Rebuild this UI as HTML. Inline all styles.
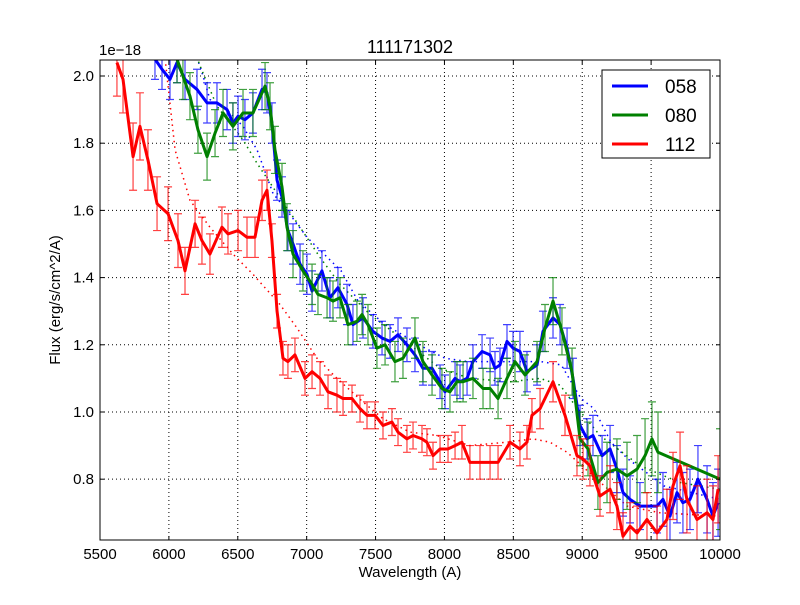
<!DOCTYPE html>
<html><head><meta charset="utf-8"><style>
body{margin:0;background:#fff;font-family:"Liberation Sans","DejaVu Sans",sans-serif}
svg text{font-family:"Liberation Sans","DejaVu Sans",sans-serif}
</style></head><body>
<svg id="chart" width="800" height="600" viewBox="0 0 800 600" xmlns="http://www.w3.org/2000/svg">
<rect width="800" height="600" fill="#fff"/>
<defs><clipPath id="clip"><rect x="100" y="60" width="620" height="480"/></clipPath></defs>
<g id="grid"></g>
<g id="plot" clip-path="url(#clip)"></g>
<rect x="100" y="60" width="620" height="480" fill="none" stroke="#000" stroke-width="1"/>
<g id="ticks"></g>
<text x="410" y="53" font-size="18" text-anchor="middle">111171302</text>
<text x="99" y="55" font-size="15">1e−18</text>
<text x="410" y="577" font-size="15" text-anchor="middle">Wavelength (A)</text>
<text transform="translate(60,300) rotate(-90)" font-size="15" text-anchor="middle">Flux (erg/s/cm^2/A)</text>
<g>
<rect x="602" y="70" width="108" height="88" fill="#fff" stroke="#000" stroke-width="1"/>
<g><line x1="612" y1="86" x2="648" y2="86" stroke="#0000ff" stroke-width="3"/><text x="665" y="93" font-size="19">058</text></g>
<g><line x1="612" y1="115" x2="648" y2="115" stroke="#008000" stroke-width="3"/><text x="665" y="122" font-size="19">080</text></g>
<g><line x1="612" y1="144" x2="648" y2="144" stroke="#ff0000" stroke-width="3"/><text x="665" y="151" font-size="19">112</text></g>
</g>
</svg>
<script>
const xTicks=[5500,6000,6500,7000,7500,8000,8500,9000,9500,10000];
const yTicks=[0.8,1.0,1.2,1.4,1.6,1.8,2.0];
const yTickLabels=["0.8","1.0","1.2","1.4","1.6","1.8","2.0"];

const redW=[5623,5667,5740,5790,5848,5914,5994,6066,6117,6190,
6240,6298,6385,6429,6502,6567,6625,6676,6712,6748,
6785,6828,6864,6915,6988,7039,7097,7155,7220,7264,
7329,7387,7438,7496,7554,7619,7663,7728,7772,7837,
7873,7917,7968,8026,8077,8127,8185,8258,8331,8389,
8476,8548,8599,8635,8694,8788,8875,8962,9006,9056,
9129,9202,9252,9296,9347,9398,9470,9543,9615,9659,
9710,9760,9833,9906,9949,9986];
const redF=[2.04,1.99,1.76,1.85,1.75,1.62,1.59,1.51,1.42,1.56,
1.51,1.47,1.55,1.53,1.54,1.52,1.52,1.63,1.66,1.51,
1.30,1.16,1.15,1.17,1.10,1.12,1.10,1.06,1.05,1.04,
1.04,1.01,0.99,0.99,0.96,0.97,0.94,0.92,0.93,0.92,
0.91,0.87,0.89,0.89,0.90,0.91,0.85,0.85,0.85,0.85,
0.91,0.89,0.91,0.99,1.01,1.09,0.99,0.87,0.86,0.84,
0.75,0.77,0.72,0.63,0.66,0.64,0.68,0.64,0.68,0.78,
0.84,0.74,0.68,0.70,0.68,0.77];
const redE=[.10,.10,.10,.10,.09,.08,.08,.08,.07,.07,
.07,.06,.06,.06,.06,.06,.06,.06,.06,.05,
.05,.05,.05,.05,.05,.05,.05,.05,.05,.05,
.04,.04,.04,.04,.04,.04,.04,.04,.04,.04,
.04,.04,.04,.04,.04,.05,.05,.05,.05,.05,
.05,.05,.05,.05,.06,.06,.06,.06,.06,.06,
.06,.07,.07,.07,.07,.08,.08,.08,.09,.10,
.10,.10,.10,.10,.10,.10];

const blueW=[5850,5899,5950,6008,6059,6117,6204,6277,6349,6422,
6465,6502,6552,6610,6676,6712,6748,6785,6821,6864,
6901,6952,7002,7039,7111,7169,7227,7293,7336,7409,
7481,7547,7605,7663,7728,7786,7844,7910,7968,8004,
8077,8113,8164,8207,8273,8331,8367,8403,8454,8498,
8548,8599,8672,8715,8788,8839,8890,8933,8984,9035,
9078,9144,9202,9252,9296,9347,9419,9543,9586,9637,
9688,9731,9782,9840,9906,9949,9986];
const blueF=[2.12,2.05,2.02,1.99,2.04,1.99,1.96,1.92,1.92,1.90,
1.86,1.88,1.87,1.89,1.96,1.95,1.86,1.69,1.64,1.54,
1.50,1.44,1.41,1.36,1.42,1.34,1.37,1.32,1.26,1.28,
1.24,1.22,1.21,1.23,1.20,1.17,1.13,1.13,1.09,1.06,
1.10,1.09,1.10,1.15,1.18,1.17,1.13,1.14,1.21,1.19,
1.18,1.12,1.14,1.24,1.28,1.26,1.19,1.10,0.96,0.92,
0.93,0.87,0.89,0.83,0.76,0.74,0.72,0.72,0.74,0.69,
0.76,0.73,0.74,0.80,0.74,0.69,0.73];
const blueE=[.06,.06,.06,.06,.06,.06,.06,.06,.06,.06,
.06,.06,.06,.06,.06,.06,.06,.06,.06,.06,
.06,.06,.06,.06,.06,.06,.06,.06,.06,.06,
.05,.05,.05,.05,.05,.05,.05,.05,.05,.05,
.05,.05,.05,.05,.05,.05,.05,.05,.05,.05,
.06,.06,.06,.06,.06,.06,.06,.06,.06,.06,
.06,.06,.07,.07,.07,.07,.07,.08,.08,.08,
.09,.09,.09,.10,.10,.10,.10];

const greenW=[6059,6102,6153,6211,6277,6335,6393,6465,6538,6610,
6698,6734,6770,6821,6857,6901,6973,7039,7082,7148,
7191,7242,7300,7365,7402,7445,7510,7569,7641,7699,
7786,7844,7910,7982,8040,8091,8135,8207,8280,8331,
8389,8454,8512,8585,8672,8730,8788,8853,8926,8984,
9042,9114,9180,9252,9325,9398,9456,9506,9550,10000];
const greenF=[2.05,2.00,1.94,1.84,1.76,1.83,1.89,1.85,1.89,1.89,
1.97,1.91,1.78,1.67,1.55,1.47,1.42,1.38,1.35,1.34,
1.33,1.34,1.26,1.27,1.29,1.26,1.19,1.20,1.15,1.16,
1.22,1.15,1.11,1.07,1.06,1.09,1.09,1.10,1.07,1.07,
1.04,1.10,1.15,1.11,1.15,1.25,1.33,1.24,1.12,0.92,
0.89,0.79,0.82,0.83,0.81,0.83,0.87,0.92,0.88,0.80];
const greenE=[.07,.07,.07,.07,.07,.07,.07,.07,.07,.07,
.07,.07,.07,.07,.07,.07,.06,.06,.06,.06,
.06,.06,.06,.06,.06,.06,.06,.06,.06,.06,
.06,.06,.06,.06,.06,.06,.06,.06,.06,.06,
.06,.06,.06,.06,.06,.07,.07,.07,.07,.08,
.08,.08,.09,.09,.10,.10,.11,.11,.12,.15];

const redModelW=[5960,5994,6045,6153,6298,6465,6610,6806,6930,7075,7220,7409,7554,7750,7946,8185,8454,8643,8766,8890,9078,9325,9565,10000];
const redModelF=[2.10,1.97,1.78,1.63,1.55,1.47,1.41,1.32,1.25,1.16,1.10,1.03,0.98,0.94,0.93,0.90,0.91,0.92,0.91,0.88,0.81,0.72,0.70,0.69];
const blueModelW=[6150,6226,6298,6422,6538,6640,6756,6857,7002,7250,7373,7569,7860,8004,8170,8400,8700,8848,8991,9085,9209,9332,9499,9593,10000];
const blueModelF=[2.10,2.03,1.93,1.90,1.85,1.78,1.65,1.60,1.52,1.42,1.33,1.26,1.19,1.16,1.15,1.15,1.15,1.14,1.04,1.01,0.91,0.86,0.81,0.78,0.74];
const greenModelW=[6150,6226,6349,6538,6640,6770,6952,7097,7242,7460,7750,7968,8185,8476,8694,8839,8948,9129,9419,9710,10000];
const greenModelF=[2.12,2.03,1.91,1.81,1.74,1.66,1.55,1.46,1.38,1.29,1.20,1.13,1.10,1.09,1.10,1.08,1.02,0.93,0.84,0.79,0.77];

const X0=100,X1=720,Y0=540,Y1=60,XMIN=5500,XMAX=10000,YMIN=0.619,YMAX=2.0476;
function xs(w){return X0+(w-XMIN)/(XMAX-XMIN)*(X1-X0);}
function ys(v){return Y0-(v-YMIN)/(YMAX-YMIN)*(Y0-Y1);}
const NS="http://www.w3.org/2000/svg";
function mk(tag,attrs,parent){const e=document.createElementNS(NS,tag);for(const k in attrs)e.setAttribute(k,attrs[k]);parent.appendChild(e);return e;}
const grid=document.getElementById('grid'),plot=document.getElementById('plot'),ticks=document.getElementById('ticks');

xTicks.forEach(t=>{
  const x=xs(t);
  const g=mk('line',{x1:x,y1:Y1,x2:x,y2:Y0,stroke:'#000','stroke-dasharray':'1,3','stroke-width':1},grid);
  
  
  mk('line',{x1:x,y1:Y0,x2:x,y2:Y0-4,stroke:'#000'},ticks);
  mk('line',{x1:x,y1:Y1,x2:x,y2:Y1+4,stroke:'#000'},ticks);
  const tx=mk('text',{x:x,y:Y0+19,'font-size':15,'text-anchor':'middle'},ticks);
  tx.textContent=t;
  
  
});
yTicks.forEach((t,i)=>{
  const y=ys(t);
  const g=mk('line',{x1:X0,y1:y,x2:X1,y2:y,stroke:'#000','stroke-dasharray':'1,3','stroke-width':1},grid);
  
  
  mk('line',{x1:X0,y1:y,x2:X0+4,y2:y,stroke:'#000'},ticks);
  mk('line',{x1:X1,y1:y,x2:X1-4,y2:y,stroke:'#000'},ticks);
  const tx=mk('text',{x:X0-6,y:y+5,'font-size':15,'text-anchor':'end'},ticks);
  tx.textContent=yTickLabels[i];
  
  
});

function model(W,F,color,name){
  const p=mk('polyline',{points:W.map((w,i)=>xs(w)+','+ys(F[i])).join(' '),fill:'none',stroke:color,'stroke-width':1.5,'stroke-dasharray':'1.5,4'},plot);
  
  
}
function series(W,F,E,color,name){
  const g=mk('g',{},plot);
  
  
  W.forEach((w,i)=>{
    const x=xs(w),a=ys(F[i]+E[i]),b=ys(F[i]-E[i]);
    const eb=mk('path',{d:`M${x},${a}V${b}M${x-4},${a}H${x+4}M${x-4},${b}H${x+4}`,stroke:color,'stroke-width':1.2,fill:'none',opacity:0.75},g);
    
    
  });
  const l=mk('polyline',{points:W.map((w,i)=>xs(w)+','+ys(F[i])).join(' '),fill:'none',stroke:color,'stroke-width':3,'stroke-linejoin':'round'},g);
  
  
}
model(blueModelW,blueModelF,'#0000ff','model-058');
model(greenModelW,greenModelF,'#008000','model-080');
model(redModelW,redModelF,'#ff0000','model-112');
series(blueW,blueF,blueE,'#0000ff','series-058');
series(greenW,greenF,greenE,'#008000','series-080');
series(redW,redF,redE,'#ff0000','series-112');
</script>
</body></html>
